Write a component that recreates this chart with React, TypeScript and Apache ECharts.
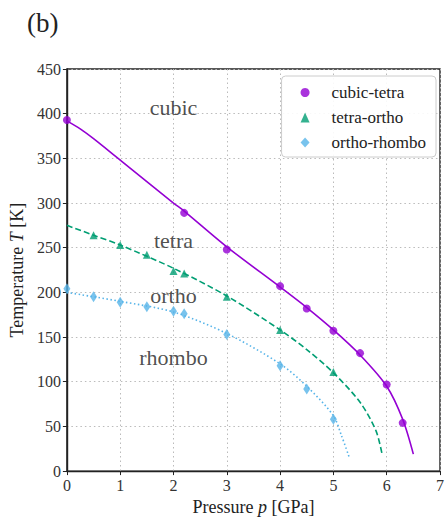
import React, { useEffect, useRef } from "react";
import * as echarts from "echarts";

// Measured transition points
const ctP = [0, 2.2, 3, 4, 4.5, 5, 5.5, 6, 6.3];
const ctT = [393, 289, 248, 207, 182, 157, 132, 97, 54];
const toP = [0.5, 1, 1.5, 2, 2.2, 3, 4, 5];
const toT = [264, 253, 242, 224, 221, 195, 158, 111];
const orP = [0, 0.5, 1, 1.5, 2, 2.2, 3, 4, 4.5, 5];
const orT = [204, 195, 189, 184, 179, 176, 153, 118, 92, 58];

// Fitted boundary curves
const ctLineP = [0, 0.25, 0.5, 1, 2, 2.2, 3, 4, 4.5, 5, 5.5, 6, 6.3, 6.5];
const ctLineT = [392, 383, 372, 348, 300, 291, 251, 206, 183, 158, 130, 95, 58, 19];
const toLineP = [0, 0.5, 1, 2, 3, 4, 4.5, 5, 5.5, 5.8, 5.92];
const toLineT = [275, 264, 253, 227, 196, 158, 136, 110, 77, 45, 17];
const orLineP = [0, 1, 2, 3, 4, 4.5, 5, 5.15, 5.3];
const orLineT = [200, 190, 178, 154, 120, 95, 62, 40, 15];

// Phase region labels
const regionNames = ["cubic", "tetra", "ortho", "rhombo"];
const regionP = [2.0, 2.0, 2.0, 2.0];
const regionT = [407, 258, 196, 127];

const xTicks = [0, 7, 1];
const yTicks = [0, 450, 50];

const FONT = "'Liberation Serif', 'DejaVu Serif', serif";
const C_CT = "#9400D3";
const C_TO = "#009E73";
const C_OR = "#56B4E9";

const zip = (a: number[], b: number[]) => a.map((v, i) => [v, b[i]]);

export default function App() {
  const ref = useRef<HTMLDivElement>(null);
  useEffect(() => {
    const chart = echarts.init(ref.current!, null, { renderer: "svg" });
    chart.setOption({
      animation: false,
      textStyle: { fontFamily: FONT },
      title: {
        text: "(b)",
        left: 22,
        top: 4,
        textStyle: { fontFamily: FONT, fontSize: 27, fontWeight: "normal", color: "#222" },
      },
      grid: {
        left: 62,
        right: 4,
        top: 69,
        bottom: 44,
        show: true,
        borderColor: "#222",
        borderWidth: 1.4,
        backgroundColor: "transparent",
      },
      legend: {
        orient: "vertical",
        right: 11,
        top: 76,
        data: [
          { name: "cubic-tetra", icon: "circle" },
          { name: "tetra-ortho", icon: "triangle" },
          { name: "ortho-rhombo", icon: "diamond" },
        ],
        itemWidth: 9,
        itemHeight: 10,
        itemGap: 8,
        padding: [8, 10, 6, 19],
        borderColor: "#ccc",
        borderWidth: 1,
        borderRadius: 4,
        backgroundColor: "rgba(255,255,255,0.9)",
        formatter: (name: string) => `{a|${name}}`,
        textStyle: {
          fontFamily: FONT,
          fontSize: 17,
          color: "#222",
          rich: {
            a: { fontFamily: FONT, fontSize: 17, color: "#222", padding: [0, 0, 0, 17], lineHeight: 16 },
          },
        },
      },
      xAxis: {
        type: "value",
        min: xTicks[0],
        max: xTicks[1],
        interval: xTicks[2],
        name: "Pressure {i|p} [GPa]",
        nameLocation: "middle",
        nameGap: 22,
        nameTextStyle: {
          fontFamily: FONT,
          fontSize: 18,
          color: "#222",
          rich: { i: { fontStyle: "italic", fontFamily: FONT, fontSize: 18, color: "#222" } },
        },
        axisLine: { show: true, lineStyle: { color: "#222", width: 1.4 } },
        axisTick: { show: true, length: 4, lineStyle: { color: "#222" } },
        axisLabel: { fontFamily: FONT, fontSize: 16, color: "#333", margin: 6 },
        splitLine: { show: true, lineStyle: { color: "#bbb", type: [1.5, 3], width: 1 } },
      },
      yAxis: {
        type: "value",
        min: yTicks[0],
        max: yTicks[1],
        interval: yTicks[2],
        name: "Temperature {i|T} [K]",
        nameLocation: "middle",
        nameGap: 33,
        nameTextStyle: {
          fontFamily: FONT,
          fontSize: 18,
          color: "#222",
          rich: { i: { fontStyle: "italic", fontFamily: FONT, fontSize: 18, color: "#222" } },
        },
        axisLine: { show: true, lineStyle: { color: "#222", width: 1.4 } },
        axisTick: { show: true, length: 4, lineStyle: { color: "#222" } },
        axisLabel: { fontFamily: FONT, fontSize: 16, color: "#333", margin: 6 },
        splitLine: { show: true, lineStyle: { color: "#bbb", type: [1.5, 3], width: 1 } },
      },
      series: [
        {
          name: "ct-line",
          type: "line",
          data: zip(ctLineP, ctLineT),
          symbol: "none",
          smooth: 0.3,
          lineStyle: { color: C_CT, width: 1.6 },
          z: 2,
        },
        {
          name: "to-line",
          type: "line",
          data: zip(toLineP, toLineT),
          symbol: "none",
          smooth: 0.3,
          lineStyle: { color: C_TO, width: 1.6, type: [6, 3] },
          z: 2,
        },
        {
          name: "or-line",
          type: "line",
          data: zip(orLineP, orLineT),
          symbol: "none",
          smooth: 0.3,
          lineStyle: { color: C_OR, width: 1.6, type: [1.5, 2.5] },
          z: 2,
        },
        {
          name: "cubic-tetra",
          type: "scatter",
          data: zip(ctP, ctT),
          symbol: "circle",
          symbolSize: 8,
          itemStyle: { color: C_CT },
          z: 3,
        },
        {
          name: "tetra-ortho",
          type: "scatter",
          data: zip(toP, toT),
          symbol: "triangle",
          symbolSize: 8,
          itemStyle: { color: C_TO },
          z: 3,
        },
        {
          name: "ortho-rhombo",
          type: "scatter",
          data: zip(orP, orT),
          symbol: "diamond",
          symbolSize: [7, 11],
          itemStyle: { color: C_OR },
          z: 3,
        },
        {
          name: "regions",
          type: "scatter",
          data: regionNames.map((n, i) => ({ value: [regionP[i], regionT[i]], name: n })),
          symbolSize: 0,
          silent: true,
          label: {
            show: true,
            position: "inside",
            formatter: (p: any) => p.name,
            fontFamily: FONT,
            fontSize: 22,
            color: "#222",
          },
          z: 4,
        },
      ],
    });
    return () => chart.dispose();
  }, []);
  return <div ref={ref} style={{ width: 447, height: 521, position: "absolute", left: 0, top: 0 }} />;
}
